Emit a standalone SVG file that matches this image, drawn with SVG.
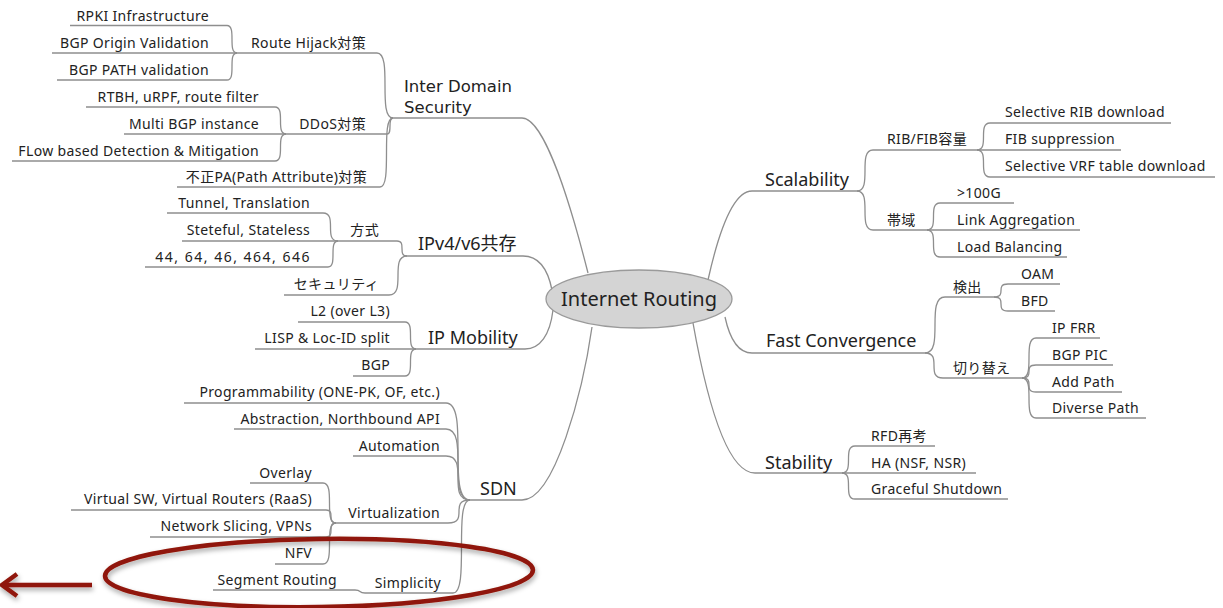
<svg xmlns="http://www.w3.org/2000/svg" width="1223" height="608" viewBox="0 0 1223 608">
<defs>
<style>
.c{fill:none;stroke:#8e8e8e;stroke-width:1.3}
.t{font-family:"Noto Sans","Noto Sans CJK JP",sans-serif;font-size:14px;letter-spacing:0.35px;fill:#222}
.e{text-anchor:end}
.b{font-size:18px;letter-spacing:0}
.r{font-size:20px;letter-spacing:0;text-anchor:middle}
.d{font-family:"DejaVu Sans",sans-serif;font-size:16.5px;letter-spacing:0}
.red{fill:none;stroke:#901508;stroke-width:4.5}
</style>
<filter id="sh" x="-10%" y="-30%" width="120%" height="160%">
<feDropShadow dx="1" dy="3" stdDeviation="2.5" flood-color="#000" flood-opacity="0.35"/>
</filter>
</defs>
<rect width="1223" height="608" fill="#fff"/>
<g id="connectors">
<path class="c" d="M70,25.5 H227 C237,25.5 227,53 237,53"/>
<path class="c" d="M52,53 H237"/>
<path class="c" d="M57,80 H227 C237,80 227,53 237,53"/>
<path class="c" d="M237,53 H377 C393,53 377,118 393,118"/>
<path class="c" d="M86,107 H275 C286,107 275,134 286,134"/>
<path class="c" d="M124,134 H286"/>
<path class="c" d="M12,161 H275 C286,161 275,134 286,134"/>
<path class="c" d="M286,134 H387 C393,134 387,118 393,118"/>
<path class="c" d="M177,187 H380 C393,187 380,118 393,118"/>
<path class="c" d="M393,118 H522 C545,118 572,210 588,273"/>
<path class="c" d="M167,213 H323 C338,213 323,241 338,241"/>
<path class="c" d="M182,241 H338"/>
<path class="c" d="M145,267 H328 C338,267 328,241 338,241"/>
<path class="c" d="M338,241 H397 C407,241 397,256 407,256"/>
<path class="c" d="M284,295 H389 C407,295 389,256 407,256"/>
<path class="c" d="M407,256 H523 C540,256 548,270 552,290"/>
<path class="c" d="M298,322 H405 C416,322 405,349 416,349"/>
<path class="c" d="M255,349 H416"/>
<path class="c" d="M353,376 H405 C416,376 405,349 416,349"/>
<path class="c" d="M416,349 H525 C540,349 550,335 553,310"/>
<path class="c" d="M184,403 H446 C470,403 446,500 470,500"/>
<path class="c" d="M234,429 H446 C470,429 446,500 470,500"/>
<path class="c" d="M353,456 H446 C470,456 446,500 470,500"/>
<path class="c" d="M250,483 H323 C336,483 323,523 336,523"/>
<path class="c" d="M71,510 H326 C336,510 326,523 336,523"/>
<path class="c" d="M150,537 H326 C336,537 326,523 336,523"/>
<path class="c" d="M275,564 H323 C336,564 323,523 336,523"/>
<path class="c" d="M336,523 H448 C470,523 448,500 470,500"/>
<path class="c" d="M213,590 H355 C362,590 358,593 365,593"/>
<path class="c" d="M365,593 H453 C470,593 453,500 470,500"/>
<path class="c" d="M470,500 H522 C555,500 583,390 592,327"/>
<path class="c" d="M708,280 C718,235 732,191 752,191 H857"/>
<path class="c" d="M857,191 C873,191 857,150 873,150 H977"/>
<path class="c" d="M857,191 C873,191 857,230 873,230 H927"/>
<path class="c" d="M977,150 C990,150 977,123 990,123 H1171"/>
<path class="c" d="M977,150 H1121"/>
<path class="c" d="M977,150 C990,150 977,177 990,177 H1215"/>
<path class="c" d="M927,230 C940,230 927,203 940,203 H1014"/>
<path class="c" d="M927,230 H1080"/>
<path class="c" d="M927,230 C940,230 927,257 940,257 H1067"/>
<path class="c" d="M725,317 C730,340 738,353 752,353 H925"/>
<path class="c" d="M925,353 C945,353 925,297 945,297 H994"/>
<path class="c" d="M925,353 C943,353 925,378 943,378 H1022"/>
<path class="c" d="M994,297 C1008,297 994,284 1008,284 H1060"/>
<path class="c" d="M994,297 C1008,297 994,311 1008,311 H1055"/>
<path class="c" d="M1022,378 C1036,378 1022,338 1036,338 H1100"/>
<path class="c" d="M1022,378 C1036,378 1022,365 1036,365 H1113"/>
<path class="c" d="M1022,378 C1036,378 1022,392 1036,392 H1122"/>
<path class="c" d="M1022,378 C1036,378 1022,418 1036,418 H1146"/>
<path class="c" d="M693,323 C705,390 725,473 755,473 H842"/>
<path class="c" d="M842,473 C855,473 842,446 855,446 H935"/>
<path class="c" d="M842,473 H976"/>
<path class="c" d="M842,473 C855,473 842,499 855,499 H1008"/>
</g>
<g id="root">
<ellipse cx="639" cy="299" rx="93" ry="29" fill="#d4d4d4" stroke="#9a9a9a" stroke-width="1.3"/>
<text class="t r" x="639" y="306">Internet Routing</text>
</g>
<g id="inter-domain-security"><text class="t d" x="404" y="92">Inter Domain<tspan x="404" y="113">Security</tspan></text></g>
<g id="route-hijack"><text class="t e" x="366" y="48">Route Hijack対策</text></g>
<g id="rpki"><text class="t e" x="209" y="21">RPKI Infrastructure</text></g>
<g id="bgp-origin"><text class="t e" x="209" y="48">BGP Origin Validation</text></g>
<g id="bgp-path"><text class="t e" x="209" y="75">BGP PATH validation</text></g>
<g id="ddos"><text class="t e" x="366" y="129">DDoS対策</text></g>
<g id="rtbh"><text class="t e" x="259" y="102">RTBH, uRPF, route filter</text></g>
<g id="multi-bgp"><text class="t e" x="259" y="129">Multi BGP instance</text></g>
<g id="flow"><text class="t e" x="259" y="156">FLow based Detection &amp; Mitigation</text></g>
<g id="fusei-pa"><text class="t e" x="367" y="182">不正PA(Path Attribute)対策</text></g>
<g id="ipv4v6"><text class="t b" x="418" y="250">IPv4/v6共存</text></g>
<g id="houshiki"><text class="t e" x="379" y="235">方式</text></g>
<g id="tunnel"><text class="t e" x="310" y="208">Tunnel, Translation</text></g>
<g id="stateful"><text class="t e" x="310" y="235">Steteful, Stateless</text></g>
<g id="nat-types"><text class="t e" x="311" y="262" style="letter-spacing:1.5px">44, 64, 46, 464, 646</text></g>
<g id="security"><text class="t e" x="379" y="289">セキュリティ</text></g>
<g id="ip-mobility"><text class="t b" x="428" y="344">IP Mobility</text></g>
<g id="l2"><text class="t e" x="390" y="316">L2 (over L3)</text></g>
<g id="lisp"><text class="t e" x="390" y="343">LISP &amp; Loc-ID split</text></g>
<g id="bgp"><text class="t e" x="390" y="370">BGP</text></g>
<g id="sdn"><text class="t b" x="480" y="495">SDN</text></g>
<g id="programmability"><text class="t e" x="440" y="397">Programmability (ONE-PK, OF, etc.)</text></g>
<g id="abstraction"><text class="t e" x="440" y="424">Abstraction, Northbound API</text></g>
<g id="automation"><text class="t e" x="440" y="451">Automation</text></g>
<g id="virtualization"><text class="t e" x="440" y="518">Virtualization</text></g>
<g id="overlay"><text class="t e" x="312" y="478">Overlay</text></g>
<g id="virtual-sw"><text class="t e" x="312" y="504">Virtual SW, Virtual Routers (RaaS)</text></g>
<g id="slicing"><text class="t e" x="312" y="531">Network Slicing, VPNs</text></g>
<g id="nfv"><text class="t e" x="312" y="558">NFV</text></g>
<g id="simplicity"><text class="t e" x="441" y="588">Simplicity</text></g>
<g id="segment-routing"><text class="t e" x="337" y="585">Segment Routing</text></g>
<g id="scalability"><text class="t b" x="765" y="186">Scalability</text></g>
<g id="ribfib"><text class="t" x="887" y="144">RIB/FIB容量</text></g>
<g id="sel-rib"><text class="t" x="1005" y="117">Selective RIB download</text></g>
<g id="fib-supp"><text class="t" x="1005" y="144">FIB suppression</text></g>
<g id="sel-vrf"><text class="t" x="1005" y="171">Selective VRF table download</text></g>
<g id="bandwidth"><text class="t" x="887" y="225">帯域</text></g>
<g id="g100"><text class="t" x="957" y="198">&gt;100G</text></g>
<g id="link-agg"><text class="t" x="957" y="225">Link Aggregation</text></g>
<g id="load-bal"><text class="t" x="957" y="252">Load Balancing</text></g>
<g id="fast-conv"><text class="t b" x="766" y="347">Fast Convergence</text></g>
<g id="detect"><text class="t" x="953" y="292">検出</text></g>
<g id="oam"><text class="t" x="1021" y="279">OAM</text></g>
<g id="bfd"><text class="t" x="1021" y="306">BFD</text></g>
<g id="switch"><text class="t" x="953" y="373">切り替え</text></g>
<g id="ipfrr"><text class="t" x="1052" y="333">IP FRR</text></g>
<g id="bgp-pic"><text class="t" x="1052" y="360">BGP PIC</text></g>
<g id="add-path"><text class="t" x="1052" y="387">Add Path</text></g>
<g id="diverse-path"><text class="t" x="1052" y="413">Diverse Path</text></g>
<g id="stability"><text class="t b" x="765" y="469">Stability</text></g>
<g id="rfd"><text class="t" x="871" y="441">RFD再考</text></g>
<g id="ha"><text class="t" x="871" y="468">HA (NSF, NSR)</text></g>
<g id="graceful"><text class="t" x="871" y="494">Graceful Shutdown</text></g>
<g id="highlight" filter="url(#sh)">
<ellipse class="red" cx="319" cy="573" rx="214" ry="34" transform="rotate(-0.8 319 573)"/>
<path class="red" d="M92,585 H3"/>
<polyline class="red" points="17,574 2,585 17,596"/>
</g>
</svg>
